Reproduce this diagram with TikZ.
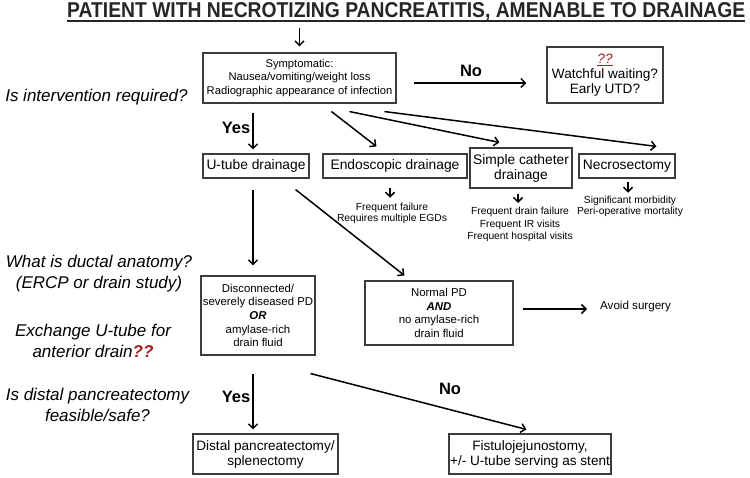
\documentclass[tikz,border=0pt]{standalone}
\usepackage{graphicx}
\usepackage{fontspec}
\setmainfont{Liberation Sans}
\usetikzlibrary{arrows.meta,calc}
\definecolor{boxline}{RGB}{60,60,60}
\definecolor{qred}{RGB}{165,28,28}
\newcommand{\fsz}[2]{\fontsize{#1pt}{#2pt}\selectfont}
\begin{document}
\begin{tikzpicture}[x=1pt,y=-1pt,
  box/.style={draw=boxline, line width=1.1pt, inner sep=0pt, align=center},
  btxt/.style={box, font=\fsz{11.4}{13.6}},
  bbig/.style={box, font=\fsz{13.6}{15}},
  small/.style={inner sep=0pt, align=center, font=\fsz{10.3}{11.5}},
  ask/.style={inner sep=0pt, align=center, font=\fsz{17}{21}\itshape},
  lab/.style={inner sep=0pt, font=\fsz{16.5}{18}\bfseries},
  arr/.style={-{Straight Barb[length=4.5pt,width=9pt]}, line width=1.5pt}]
\useasboundingbox (0,0) rectangle (750,478);

% title
\node[anchor=base west, inner sep=0pt, text=black!85] (title) at (67,18)
  {\resizebox{678pt}{15pt}{\bfseries PATIENT WITH NECROTIZING PANCREATITIS, AMENABLE TO DRAINAGE}};
\draw[line width=1.3pt, black!85] ($(title.base west)+(0,3)$) -- ($(title.base east)+(0,3)$);

% boxes
\node[box, font=\fsz{11.2}{13.5}, minimum width=193pt, minimum height=50pt] (sym) at (299.5,78)
  {Symptomatic:\\Nausea/vomiting/weight loss\\Radiographic appearance of infection};
\node[bbig, minimum width=116pt, minimum height=56pt] (q) at (605,75)
  {{\color{qred}\itshape\underline{??}}\\Watchful waiting?\\Early UTD?};
\node[bbig, font=\fsz{13.8}{15}, minimum width=106pt, minimum height=24pt] (utube) at (256,166) {U-tube drainage};
\node[bbig, font=\fsz{13.8}{15}, minimum width=144pt, minimum height=24pt] (endo) at (395,166) {Endoscopic drainage};
\node[bbig, font=\fsz{13.8}{15}, minimum width=102pt, minimum height=40pt] (cath) at (521,168) {Simple catheter\\drainage};
\node[bbig, font=\fsz{13.8}{15}, minimum width=96pt, minimum height=24pt] (necro) at (627,166) {Necrosectomy};
\node[btxt, minimum width=114pt, minimum height=79pt] (disc) at (258,315.5)
  {Disconnected/\\severely diseased PD\\\textbf{\textit{OR}}\\amylase-rich\\drain fluid};
\node[btxt, minimum width=148pt, minimum height=64pt] (normal) at (439,313)
  {Normal PD\\\textbf{\textit{AND}}\\no amylase-rich\\drain fluid};
\node[bbig, minimum width=145pt, minimum height=40pt] (distal) at (265.5,454)
  {Distal pancreatectomy/\\splenectomy};
\node[bbig, minimum width=162pt, minimum height=40pt] (fistulo) at (530,454)
  {Fistulojejunostomy,\\+/- U-tube serving as stent};

% small texts
\node[small] (endoTxt) at (392,213.5) {Frequent failure\\Requires multiple EGDs};
\node[small, font=\fsz{10.3}{12.5}] (cathTxt) at (520,224.5) {Frequent drain failure\\Frequent IR visits\\Frequent hospital visits};
\node[small] (necroTxt) at (630,206.5) {Significant morbidity\\Peri-operative mortality};
\node[inner sep=0pt, anchor=west, font=\fsz{11.6}{13}] (avoid) at (600,307) {Avoid surgery};

% side questions
\node[ask] (ask1) at (96.5,97) {Is intervention required?};
\node[ask] (ask2) at (99,274) {What is ductal anatomy?\\(ERCP or drain study)};
\node[ask] (ask3) at (93,341) {Exchange U-tube for\\anterior drain{\color{qred}\bfseries ??}};
\node[ask] (ask4) at (97.5,405) {Is distal pancreatectomy\\feasible/safe?};

% labels
\node[lab] (no1) at (471,71) {No};
\node[lab] (yes1) at (236,128) {Yes};
\node[lab] (yes2) at (236,397) {Yes};
\node[lab] (no2) at (450,389) {No};

% connectors
\draw[arr, shorten <=6pt, shorten >=6pt] (title.south -| sym.north) -- (sym.north);
\draw[arr] ($(sym.east)+(17,5)$) -- ($(q.west |- sym.east)+(-20,5)$);
\draw[arr] ($(sym.south -| utube.north)+(-3,9)$) -- ($(utube.north)+(-3,-4)$);
\draw[arr] ($(sym.south west)+(129,8)$) -- ($(endo.north west)+(54,-7)$);
\draw[arr] ($(sym.south west)+(147,8)$) -- ($(cath.north west)+(30,-5)$);
\draw[arr] ($(sym.south west)+(182,8)$) -- ($(necro.north west)+(78,-7)$);

\draw[arr] ($(endo.south)+(-5,9)$) -- ($(endoTxt.north)+(-2,-5)$);
\draw[arr] ($(cath.south)+(-3,5)$) -- ($(cathTxt.north)+(-2,-4)$);
\draw[arr] ($(necro.south)+(1,3)$) -- ($(necroTxt.north)+(-2,-3)$);

\draw[arr] ($(utube.south)+(-3,11)$) -- ($(disc.north)+(-5,-10)$);
\draw[arr] ($(utube.south east)+(-14,11)$) -- ($(normal.north west)+(40,-5)$);
\draw[arr] ($(normal.east)+(9,-4)$) -- ($(avoid.west)+(-13,2)$);
\draw[arr] ($(disc.south)+(-5,18)$) -- ($(distal.north -| disc.south)+(-5,-4)$);
\draw[arr] ($(disc.south east)+(-5,18)$) -- ($(fistulo.north west)+(78,-4)$);
\end{tikzpicture}
\end{document}
